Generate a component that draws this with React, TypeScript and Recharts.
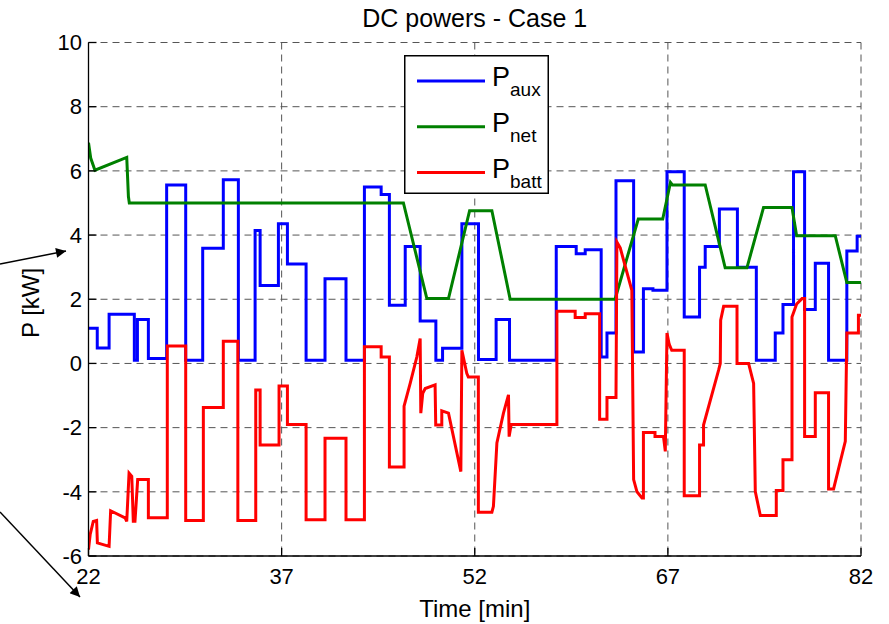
import React from "react";
import { LineChart, Line, XAxis, YAxis, CartesianGrid, Legend } from "recharts";

const xTicks = [22, 37, 52, 67, 82];
const yTicks = [-6, -4, -2, 0, 2, 4, 6, 8, 10];

// [time in min, power in kW]
const auxPoints: [number, number][] = [
  [22, 1.1], [22.68, 1.1], [22.68, 0.48], [23.6, 0.48], [23.6, 1.53], [25.56, 1.53],
  [25.56, 0.1], [25.8, 0.1], [25.8, 1.37], [26.65, 1.37], [26.65, 0.15], [28.07, 0.15],
  [28.07, 5.56], [29.55, 5.56], [29.55, 0.1], [30.87, 0.1], [30.87, 3.59], [32.47, 3.59],
  [32.47, 5.72], [33.64, 5.72], [33.64, 0.1], [34.94, 0.1], [34.94, 4.14], [35.33, 4.14],
  [35.33, 2.43], [36.75, 2.43], [36.75, 4.35], [37.45, 4.35], [37.45, 3.1], [38.9, 3.1],
  [38.9, 0.1], [40.37, 0.1], [40.37, 2.64], [42.0, 2.64], [42.0, 0.1], [43.43, 0.1],
  [43.43, 5.5], [44.73, 5.5], [44.73, 5.26], [45.37, 5.26], [45.37, 1.81], [46.6, 1.81],
  [46.6, 3.64], [47.76, 3.64], [47.76, 1.32], [48.98, 1.32], [48.98, 0.1], [49.5, 0.1],
  [49.5, 0.47], [51.0, 0.47], [51.0, 4.35], [52.29, 4.35], [52.29, 0.12], [53.66, 0.12],
  [53.66, 1.37], [54.7, 1.37], [54.7, 0.1], [58.33, 0.1], [58.33, 3.64], [59.88, 3.64],
  [59.88, 3.42], [60.58, 3.42], [60.58, 3.54], [61.82, 3.54], [61.82, 0.2], [62.27, 0.2],
  [62.27, 0.95], [62.97, 0.95], [62.97, 5.69], [64.34, 5.69], [64.34, 0.36], [65.1, 0.36],
  [65.1, 2.33], [65.84, 2.33], [65.84, 2.28], [66.93, 2.28], [66.93, 5.97], [68.27, 5.97],
  [68.27, 1.45], [69.46, 1.45], [69.46, 3.0], [69.9, 3.0], [69.9, 3.64], [71.0, 3.64],
  [71.0, 4.81], [72.4, 4.81], [72.4, 3.0], [73.87, 3.0], [73.87, 0.1], [75.34, 0.1],
  [75.34, 0.95], [75.94, 0.95], [75.94, 1.84], [76.76, 1.84], [76.76, 5.97], [77.62, 5.97],
  [77.62, 1.68], [78.45, 1.68], [78.45, 3.12], [79.48, 3.12], [79.48, 0.1], [80.9, 0.1],
  [80.9, 3.5], [81.7, 3.5], [81.7, 3.96], [82, 3.96],
];

const netPoints: [number, number][] = [
  [22, 6.88], [22.17, 6.4], [22.5, 6.02], [24.97, 6.42], [25.1, 5.2], [25.17, 5.0],
  [46.46, 5.0], [48.28, 2.02], [49.96, 2.02], [51.6, 4.76], [53.33, 4.76], [54.75, 2.0],
  [62.9, 2.0], [64.7, 4.5], [66.6, 4.5], [67.2, 5.64], [67.35, 5.56], [69.9, 5.56],
  [71.45, 2.98], [73.14, 2.98], [74.43, 4.86], [76.64, 4.86], [77.0, 3.98], [80.0, 3.98],
  [80.9, 2.52], [82, 2.52],
];

const battPoints: [number, number][] = [
  [22, -5.8], [22.13, -5.33], [22.37, -4.92], [22.63, -4.89], [22.69, -5.59], [23.6, -5.7],
  [23.72, -4.59], [24.84, -4.81], [24.97, -4.92], [25.15, -3.42], [25.36, -3.52], [25.48, -4.92],
  [25.61, -4.92], [25.82, -3.62], [26.65, -3.62], [26.65, -4.81], [28.12, -4.81], [28.12, 0.54],
  [29.55, 0.54], [29.55, -4.89], [30.92, -4.89], [30.92, -1.37], [32.47, -1.37], [32.47, 0.69],
  [33.6, 0.69], [33.6, -4.89], [34.99, -4.89], [34.99, -0.83], [35.33, -0.83], [35.33, -2.54],
  [36.8, -2.54], [36.8, -0.7], [37.45, -0.7], [37.45, -1.9], [38.9, -1.9], [38.9, -4.87],
  [40.37, -4.87], [40.37, -2.33], [42.0, -2.33], [42.0, -4.87], [43.43, -4.87], [43.43, 0.52],
  [44.73, 0.52], [44.73, 0.2], [45.37, 0.2], [45.37, -3.23], [46.51, -3.23], [46.51, -1.33],
  [47.0, -0.6], [47.5, 0.2], [47.76, 0.78], [47.81, -1.55], [47.96, -0.93], [48.15, -0.78],
  [48.92, -0.67], [48.97, -1.92], [49.44, -1.92], [49.44, -1.48], [49.96, -1.55], [50.92, -3.37],
  [51.0, 0.41], [51.38, -0.31], [51.5, -0.42], [52.28, -0.42], [52.28, -4.64], [53.33, -4.64],
  [53.45, -4.45], [53.72, -2.48], [54.23, -1.55], [54.62, -0.98], [54.67, -2.28], [54.83, -1.9],
  [58.38, -1.9], [58.38, 1.63], [59.8, 1.63], [59.8, 1.43], [60.58, 1.43], [60.58, 1.55],
  [61.7, 1.55], [61.7, -1.74], [62.27, -1.74], [62.27, -1.06], [62.97, -1.06], [63.04, 3.78],
  [63.3, 3.6], [64.2, 2.28], [64.34, -3.62], [64.6, -4.0], [64.99, -4.19], [65.1, -4.19],
  [65.1, -2.15], [66.0, -2.15], [66.0, -2.28], [66.66, -2.28], [66.8, -2.74], [66.93, 0.95],
  [67.1, 0.6], [67.3, 0.41], [68.27, 0.41], [68.27, -4.12], [69.46, -4.12], [69.46, -2.54],
  [69.77, -2.54], [69.77, -1.92], [70.94, -0.21], [71.07, 0.0], [71.1, 1.35], [71.33, 1.78],
  [72.37, 1.78], [72.37, 0.0], [73.27, 0.0], [73.66, -0.62], [73.79, -3.99], [74.18, -4.74],
  [75.42, -4.74], [75.42, -3.96], [75.94, -3.96], [75.94, -3.0], [76.64, -3.0], [76.64, 1.45],
  [77.0, 1.85], [77.42, 2.02], [77.62, 2.02], [77.62, -2.28], [78.45, -2.28], [78.45, -0.91],
  [79.48, -0.91], [79.48, -3.91], [79.87, -3.91], [80.78, -2.43], [80.9, 0.95], [81.8, 0.95],
  [81.8, 1.5], [82, 1.5],
];

const legendItems = [
  { sub: "aux", color: "#0000ff" },
  { sub: "net", color: "#008000" },
  { sub: "batt", color: "#ff0000" },
];

const FONT = '"Liberation Sans", Arial, Helvetica, sans-serif';

const toRows = (pts: [number, number][]) => pts.map(([t, v]) => ({ t, v }));

function LegendBox() {
  return (
    <svg width={145} height={139} style={{ display: "block" }}>
      <rect x={0.75} y={0.75} width={143.5} height={137.5} fill="#fff" stroke="#000" strokeWidth={1.5} />
      {legendItems.map((it, i) => {
        const y = 26 + i * 45.8;
        return (
          <g key={it.sub} fontFamily={FONT} fill="#000">
            <line x1={13} x2={81} y1={y} y2={y} stroke={it.color} strokeWidth={3} />
            <text x={88} y={y + 5} fontSize={27}>P</text>
            <text x={106} y={y + 15} fontSize={19}>{it.sub}</text>
          </g>
        );
      })}
    </svg>
  );
}

export default function App() {
  const tickStyle = { fill: "#000", fontSize: 22, fontFamily: FONT };
  return (
    <div style={{ position: "absolute", left: 0, top: 0, width: 889, height: 624, background: "#fff" }}>
      <LineChart width={889} height={624} margin={{ top: 42.5, right: 28, bottom: 0, left: 0 }}>
        <CartesianGrid stroke="#555" strokeDasharray="7 5" strokeWidth={1} />
        <XAxis
          dataKey="t"
          type="number"
          domain={[22, 82]}
          ticks={xTicks}
          allowDataOverflow
          height={68}
          stroke="#000"
          strokeWidth={1.3}
          tickSize={-8}
          tickMargin={20}
          tick={tickStyle}
          label={{ value: "Time [min]", position: "insideBottom", offset: 7, fill: "#000", fontSize: 24, fontFamily: FONT }}
        />
        <XAxis
          xAxisId="top"
          orientation="top"
          dataKey="t"
          type="number"
          domain={[22, 82]}
          ticks={xTicks}
          height={0}
          stroke="#000"
          strokeWidth={1.3}
          tickSize={-8}
          tick={false}
        />
        <YAxis
          type="number"
          domain={[-6, 10]}
          ticks={yTicks}
          allowDataOverflow
          width={88.5}
          stroke="#000"
          strokeWidth={1.3}
          tickSize={-8}
          tickMargin={14.5}
          tick={tickStyle}
          label={() => (
            <text
              x={30}
              y={303}
              transform="rotate(-90 30 303)"
              textAnchor="middle"
              dominantBaseline="central"
              fontSize={24}
              fontFamily={FONT}
              fill="#000"
            >
              P [kW]
            </text>
          )}
        />
        <YAxis
          yAxisId="right"
          orientation="right"
          type="number"
          domain={[-6, 10]}
          ticks={yTicks}
          width={0}
          stroke="#000"
          strokeWidth={1.3}
          tickSize={-8}
          tick={false}
        />
        <Legend
          layout="horizontal"
          align="center"
          verticalAlign="middle"
          content={() => <LegendBox />}
          wrapperStyle={{ position: "absolute", left: 404, top: 55, width: 145, height: 139 }}
        />
        <Line data={toRows(auxPoints)} dataKey="v" name="aux" type="linear" stroke="#0000ff" strokeWidth={3} dot={false} isAnimationActive={false} />
        <Line data={toRows(netPoints)} dataKey="v" name="net" type="linear" stroke="#008000" strokeWidth={3} dot={false} isAnimationActive={false} />
        <Line data={toRows(battPoints)} dataKey="v" name="batt" type="linear" stroke="#ff0000" strokeWidth={3} dot={false} isAnimationActive={false} />
      </LineChart>
      <svg
        width={889}
        height={624}
        style={{ position: "absolute", left: 0, top: 0, pointerEvents: "none" }}
      >
        <defs>
          <marker id="arrowHead" viewBox="0 0 10 10" refX="10" refY="5" markerWidth="14" markerHeight="10" markerUnits="userSpaceOnUse" orient="auto">
            <path d="M0,0 L10,5 L0,10 z" fill="#000" />
          </marker>
        </defs>
        <text x={474.75} y={26.5} textAnchor="middle" fontSize={25} fontFamily={FONT} fill="#000">
          DC powers - Case 1
        </text>
        <line x1={0} y1={264} x2={66} y2={251} stroke="#000" strokeWidth={1.5} markerEnd="url(#arrowHead)" />
        <line x1={0} y1={512} x2={80} y2={597} stroke="#000" strokeWidth={1.5} markerEnd="url(#arrowHead)" />
      </svg>
    </div>
  );
}
